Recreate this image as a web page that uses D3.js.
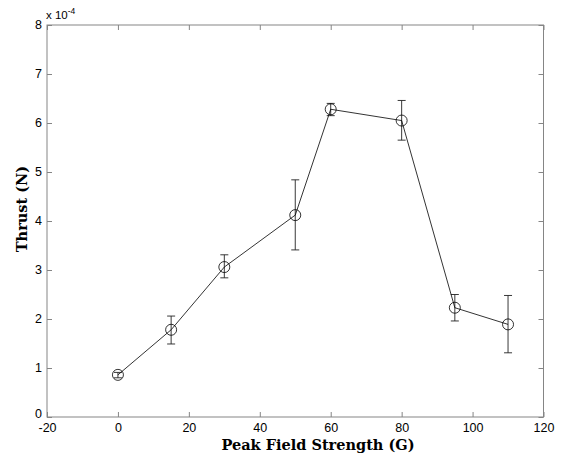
<!DOCTYPE html>
<html>
<head>
<meta charset="utf-8">
<script src="https://cdn.jsdelivr.net/npm/d3@7"></script>
<style>
  body { margin: 0; background: #fff; }
  svg { display: block; }
</style>
</head>
<body>
<svg id="chart" width="563" height="457"></svg>
<script>
// field strength (G) and thrust (x 1e-4 N)
const field = [0, 15, 30, 50, 60, 80, 95, 110];
const thrust = [0.86, 1.78, 3.06, 4.12, 6.28, 6.05, 2.23, 1.89];
const err_lo = [0.80, 1.49, 2.84, 3.41, 6.15, 5.65, 1.96, 1.31];
const err_hi = [0.91, 2.06, 3.31, 4.84, 6.40, 6.46, 2.50, 2.48];
const x_ticks = [-20, 0, 20, 40, 60, 80, 100, 120];
const y_ticks = [0, 1, 2, 3, 4, 5, 6, 7, 8];

const svg = d3.select('#chart');
const m_left = 47, m_right = 543.5, m_top = 25, m_bottom = 417;
const axis_col = '#858585';
const tick_font = 'Liberation Sans, Arial, sans-serif';
const fmt = d => String(d); // plain hyphen minus like the original

const x = d3.scaleLinear().domain([-20, 120]).range([m_left, m_right]);
const y = d3.scaleLinear().domain([0, 8]).range([m_bottom, m_top]);

// axes box
svg.append('rect')
    .attr('x', m_left).attr('y', m_top)
    .attr('width', m_right - m_left).attr('height', m_bottom - m_top)
    .attr('fill', 'none').attr('stroke', axis_col).attr('stroke-width', 1);

function style_axis(g) {
    g.select('.domain').remove();
    g.selectAll('.tick line').attr('stroke', axis_col);
    g.selectAll('.tick text')
        .attr('fill', '#000')
        .style('font-family', tick_font)
        .style('font-size', '12.5px');
}

svg.append('g')
    .attr('transform', `translate(0,${m_bottom})`)
    .call(d3.axisBottom(x).tickValues(x_ticks).tickSizeInner(-5).tickPadding(6).tickFormat(fmt))
    .call(style_axis);
svg.append('g')
    .attr('transform', `translate(0,${m_top})`)
    .call(d3.axisTop(x).tickValues(x_ticks).tickSizeInner(-5).tickFormat(''))
    .call(style_axis);
svg.append('g')
    .attr('transform', `translate(${m_left},0)`)
    .call(d3.axisLeft(y).tickValues(y_ticks).tickSizeInner(-5).tickPadding(5).tickFormat(fmt))
    .call(style_axis)
    .call(g => g.selectAll('.tick text').attr('dy', d => d === 0 ? '0.05em' : '0.3em'));
svg.append('g')
    .attr('transform', `translate(${m_right},0)`)
    .call(d3.axisRight(y).tickValues(y_ticks).tickSizeInner(-5).tickFormat(''))
    .call(style_axis);

// exponent label
const expo = svg.append('text')
    .attr('x', m_left - 1).attr('y', 19)
    .style('font-family', tick_font).style('font-size', '11.5px');
expo.append('tspan').text('x 10');
expo.append('tspan').attr('dy', -5).style('font-size', '8.5px').text('-4');

// axis labels
const label_font = 'DejaVu Serif, Liberation Serif, serif';
svg.append('text')
    .attr('x', 318).attr('y', 449.5)
    .attr('text-anchor', 'middle')
    .style('font-family', label_font).style('font-weight', 'bold').style('font-size', '14.5px')
    .text('Peak Field Strength (G)');
svg.append('text')
    .attr('transform', 'translate(27,209) rotate(-90)')
    .attr('text-anchor', 'middle')
    .style('font-family', label_font).style('font-weight', 'bold').style('font-size', '14.5px')
    .text('Thrust (N)');

const pts = field.map((f, i) => ({f, t: thrust[i], lo: err_lo[i], hi: err_hi[i]}));

// error bars
const eb = svg.append('g').attr('stroke', '#222').attr('stroke-width', 0.9);
pts.forEach(d => {
    const cx = x(d.f);
    eb.append('line').attr('x1', cx).attr('x2', cx).attr('y1', y(d.lo)).attr('y2', y(d.hi));
    eb.append('line').attr('x1', cx - 4).attr('x2', cx + 4).attr('y1', y(d.lo)).attr('y2', y(d.lo));
    eb.append('line').attr('x1', cx - 4).attr('x2', cx + 4).attr('y1', y(d.hi)).attr('y2', y(d.hi));
});

// line
svg.append('path')
    .datum(pts)
    .attr('fill', 'none').attr('stroke', '#000').attr('stroke-width', 0.8)
    .attr('d', d3.line().x(d => x(d.f)).y(d => y(d.t)));

// markers
svg.append('g').selectAll('circle')
    .data(pts).join('circle')
    .attr('cx', d => x(d.f)).attr('cy', d => y(d.t)).attr('r', 5.5)
    .attr('fill', 'none').attr('stroke', '#000').attr('stroke-width', 0.8);
</script>
</body>
</html>
